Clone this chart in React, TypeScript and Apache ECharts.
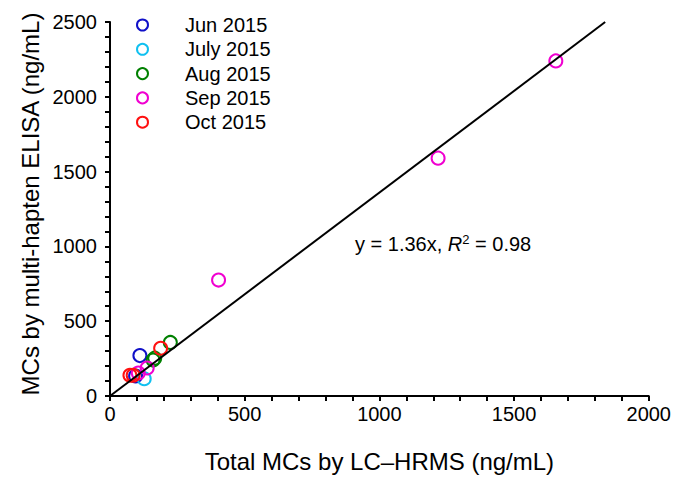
import React, { useEffect, useRef } from "react";
import * as echarts from "echarts";

const seriesNames = ["Jun 2015", "July 2015", "Aug 2015", "Sep 2015", "Oct 2015"];
const seriesColors = ["#1010C8", "#10C0F0", "#008000", "#F000D0", "#FF1010"];
const junData = [[111, 270], [95, 134]];
const julyData = [[127, 115]];
const augData = [[224, 358], [166, 253], [160, 240]];
const sepData = [[138, 187], [105, 154], [403, 775], [1218, 1590], [1655, 2240]];
const octData = [[188, 319], [74, 139], [86, 139]];
const fitSlope = 1.36;
const fitLabel = "y = 1.36x, ";
const xTicks = [0, 500, 1000, 1500, 2000];
const yTicks = [0, 500, 1000, 1500, 2000, 2500];
const xTitle = "Total MCs by LC–HRMS (ng/mL)";
const yTitle = "MCs by multi-hapten ELISA (ng/mL)";

export default function App() {
  const ref = useRef<HTMLDivElement>(null);
  useEffect(() => {
    const chart = echarts.init(ref.current!, null, { renderer: "svg" });
    const font = "Liberation Sans, Arial, sans-serif";
    const allData = [junData, julyData, augData, sepData, octData];
    const yMax = yTicks[yTicks.length - 1];
    const fitData = [[0, 0], [yMax / fitSlope, yMax]];
    chart.setOption({
      animation: false,
      backgroundColor: "#fff",
      textStyle: { fontFamily: font },
      grid: { left: 110, right: 23, top: 22, bottom: 77 },
      legend: {
        orient: "vertical",
        left: 131,
        top: 10,
        itemWidth: 11,
        itemHeight: 11,
        itemGap: 4.3,
        icon: "circle",
        data: seriesNames,
        textStyle: { fontSize: 20, color: "#000", fontFamily: font, padding: [0, 0, 0, 32] },
      },
      xAxis: {
        type: "value",
        min: xTicks[0],
        max: xTicks[xTicks.length - 1],
        interval: 500,
        name: xTitle,
        nameLocation: "middle",
        nameGap: 53,
        nameTextStyle: { fontSize: 24, color: "#000", fontFamily: font },
        axisLine: { lineStyle: { color: "#000", width: 2 } },
        axisTick: { show: true, length: 5, lineStyle: { color: "#000", width: 2 } },
        minorTick: { show: true, splitNumber: 5, length: 5, lineStyle: { color: "#000", width: 2 } },
        axisLabel: { fontSize: 20, color: "#000", margin: 8, fontFamily: font, formatter: (v: number) => String(v) },
        splitLine: { show: false },
      },
      yAxis: {
        type: "value",
        min: yTicks[0],
        max: yMax,
        interval: 500,
        axisLine: { lineStyle: { color: "#000", width: 2 } },
        axisTick: { show: true, length: 5, lineStyle: { color: "#000", width: 2 } },
        minorTick: { show: true, splitNumber: 5, length: 5, lineStyle: { color: "#000", width: 2 } },
        axisLabel: { fontSize: 20, color: "#000", margin: 13, fontFamily: font, formatter: (v: number) => String(v) },
        splitLine: { show: false },
      },
      series: [
        ...seriesNames.map((name, i) => ({
          name,
          type: "scatter",
          data: allData[i],
          symbol: "circle",
          symbolSize: 13,
          z: 2,
          itemStyle: { color: "rgba(255,255,255,0)", borderColor: seriesColors[i], borderWidth: 2, opacity: 1 },
        })),
        {
          name: "fit",
          type: "line",
          data: fitData,
          showSymbol: false,
          symbol: "none",
          z: 3,
          lineStyle: { color: "#000", width: 2 },
        },
      ],
      graphic: [
        {
          type: "text",
          x: 30,
          y: 204,
          rotation: Math.PI / 2,
          style: {
            text: yTitle,
            fontSize: 24,
            fontFamily: font,
            fill: "#000",
            align: "center",
            verticalAlign: "middle",
          },
        },
        {
          type: "text",
          left: 355,
          top: 233,
          style: {
            text: "{n|" + fitLabel + "}{i|R}{s|2}{n| = 0.98}",
            rich: {
              n: { fontSize: 20, fontFamily: font, fill: "#000" },
              i: { fontSize: 20, fontFamily: font, fontStyle: "italic", fill: "#000" },
              s: { fontSize: 13, fontFamily: font, fill: "#000", verticalAlign: "top", padding: [0, 0, 9, 0] },
            },
          },
        },
      ],
    });
    return () => chart.dispose();
  }, []);
  return <div ref={ref} style={{ position: "fixed", left: 0, top: 0, width: 674, height: 478 }} />;
}
